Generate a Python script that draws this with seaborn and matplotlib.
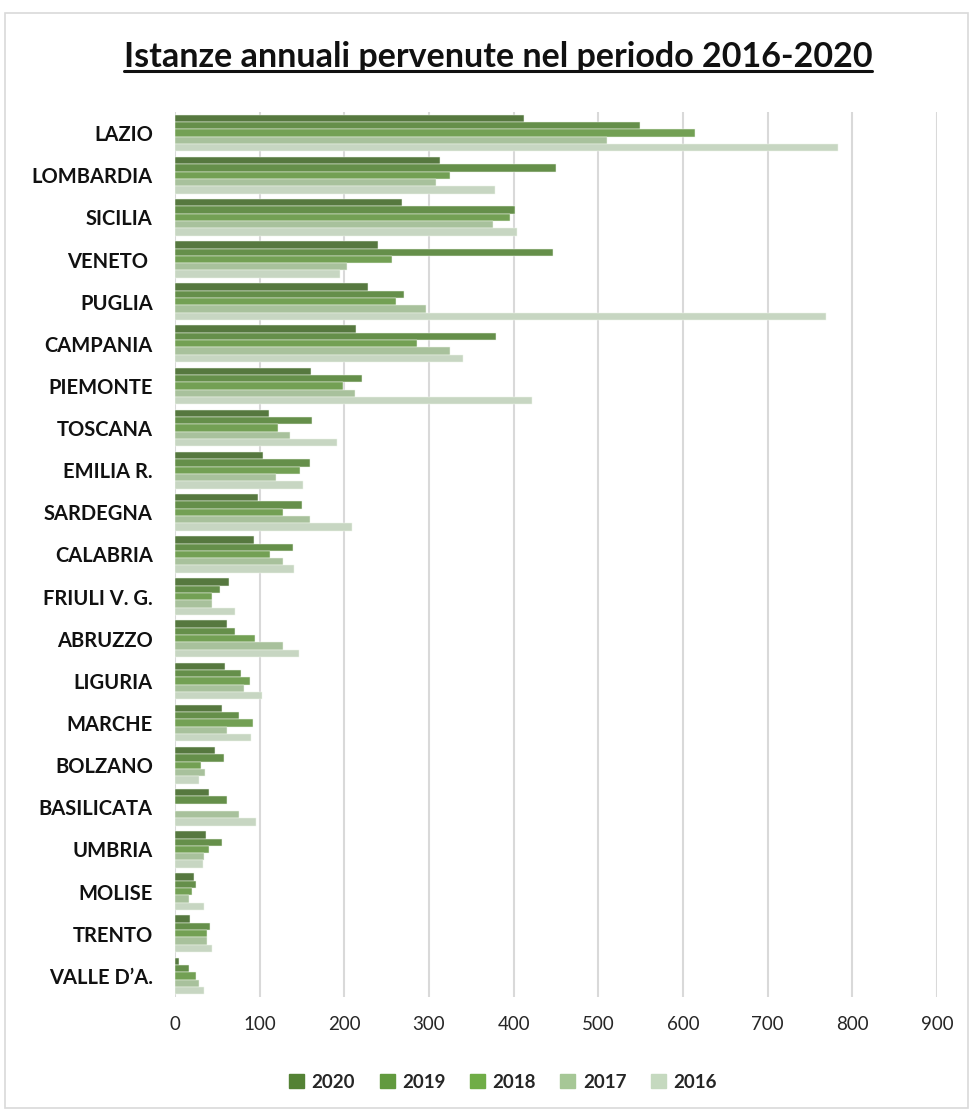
import matplotlib
matplotlib.use("Agg")
import matplotlib.pyplot as plt
import seaborn as sns
import pandas as pd
from matplotlib.patches import Rectangle
from matplotlib.lines import Line2D

regions = ["LAZIO", "LOMBARDIA", "SICILIA", "VENETO ", "PUGLIA", "CAMPANIA", "PIEMONTE",
           "TOSCANA", "EMILIA R.", "SARDEGNA", "CALABRIA", "FRIULI V. G.", "ABRUZZO",
           "LIGURIA", "MARCHE", "BOLZANO", "BASILICATA", "UMBRIA", "MOLISE", "TRENTO",
           "VALLE D\u2019A."]
years = ["2020", "2019", "2018", "2017", "2016"]
v2020 = [412, 313, 268, 240, 228, 214, 161, 111, 104, 98, 93, 64, 62, 59, 55, 47, 40, 37, 22, 18, 5]
v2019 = [549, 450, 401, 446, 270, 379, 221, 162, 159, 150, 139, 53, 71, 78, 76, 58, 62, 55, 25, 41, 17]
v2018 = [614, 325, 396, 256, 261, 286, 198, 122, 148, 127, 112, 44, 94, 88, 92, 31, 0, 40, 20, 38, 25]
v2017 = [510, 308, 375, 203, 297, 325, 213, 136, 119, 159, 128, 44, 127, 82, 62, 35, 75, 34, 17, 38, 28]
v2016 = [783, 378, 404, 195, 769, 340, 422, 191, 151, 209, 141, 71, 147, 103, 90, 28, 96, 33, 34, 44, 34]
colors = ["#548235", "#629A3F", "#70AD47", "#A6C796", "#C5D9BF"]

series = [v2020, v2019, v2018, v2017, v2016]
rows = []
for y, vals in zip(years, series):
    for r, v in zip(regions, vals):
        rows.append({"Regione": r, "Anno": y, "Istanze": v})
df = pd.DataFrame(rows)

sns.set_theme(style="white")
plt.rcParams["font.family"] = ["Lato", "DejaVu Sans"]

W, H = 973, 1113
fig = plt.figure(figsize=(W / 100, H / 100), dpi=100)
ax = fig.add_axes([175 / W, 1 - 997 / H, (937 - 175) / W, (997 - 112) / H])

sns.barplot(data=df, y="Regione", x="Istanze", hue="Anno", hue_order=years,
            order=regions, palette=colors, orient="h", width=0.87,
            edgecolor="#EEF5EA", linewidth=0.35, ax=ax, errorbar=None)

ax.set_xlim(0, 900)
ax.set_xticks(range(0, 901, 100))
ax.grid(axis="x", color="#D9D9D9", linewidth=1.5)
ax.set_axisbelow(True)
for s in ax.spines.values():
    s.set_visible(False)
ax.set_xlabel("")
ax.set_ylabel("")
ax.tick_params(axis="y", length=0, pad=16, labelsize=14.5)
ax.tick_params(axis="x", length=0, pad=14, labelsize=13.5, labelcolor="#262626")
for lab in ax.get_yticklabels():
    lab.set_fontweight("bold")
    lab.set_color("#111111")

ax.legend_.remove()
handles = [Rectangle((0, 0), 1, 1, color=c) for c in colors]
leg = fig.legend(handles, years, loc="center", bbox_to_anchor=(503 / W, 1 - 1082 / H),
                 ncol=5, frameon=False, handlelength=0.8, handleheight=0.8,
                 handletextpad=0.4, columnspacing=1.3,
                 prop={"weight": "bold", "size": 13.5})

title = fig.text(498 / W, 1 - 57 / H, "Istanze annuali pervenute nel periodo 2016-2020",
                 ha="center", va="center", fontsize=24.5, fontweight="bold", color="#111111")

fig.patches.append(Rectangle((5 / W, 1 - 1108 / H), (968 - 5) / W, (1108 - 13) / H,
                             transform=fig.transFigure, fill=False,
                             edgecolor="#D9D9D9", linewidth=1.2))

fig.canvas.draw()
bb = title.get_window_extent().transformed(fig.transFigure.inverted())
uy = bb.y0 + 0.002
fig.lines.append(Line2D([bb.x0, bb.x1], [uy, uy], transform=fig.transFigure,
                        color="#111111", linewidth=2.2))

fig.savefig("out.png", dpi=100)
